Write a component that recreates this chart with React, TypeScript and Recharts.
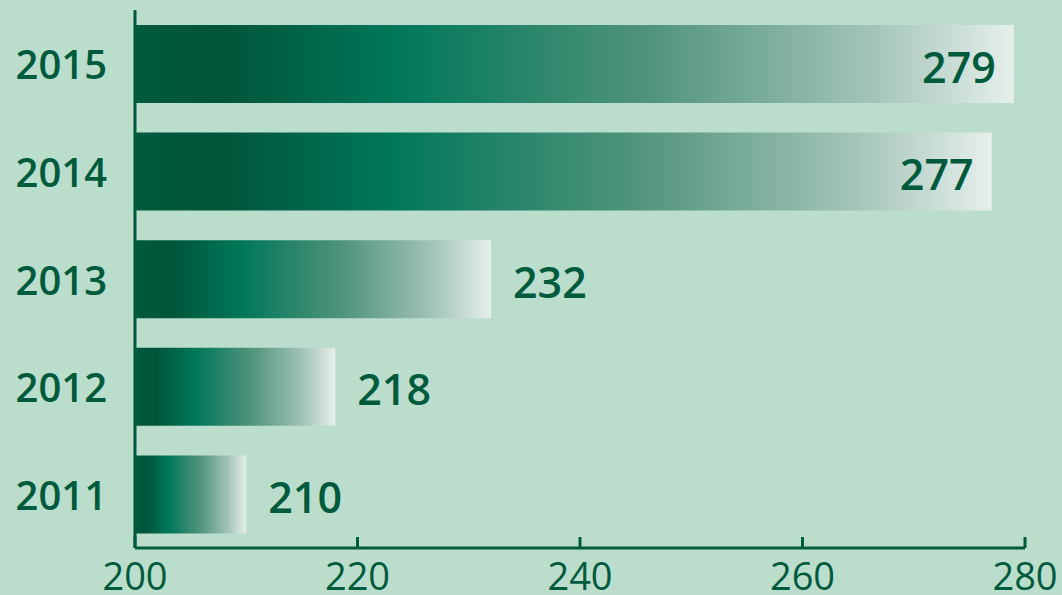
import { BarChart, Bar, XAxis, YAxis, LabelList } from 'recharts'

const years = ['2015', '2014', '2013', '2012', '2011']
const values = [279, 277, 232, 218, 210]
const xTicks = [200, 220, 240, 260, 280]

const data = years.map((year, i) => ({ year, value: values[i] }))

const GREEN = '#005a3c'
const BG = '#bbdecc'
const FONT = '"Open Sans", "Noto Sans", sans-serif'

function XTick({ x, y, payload }: any) {
  return (
    <g>
      <line x1={x} y1={y} x2={x} y2={y - 11} stroke={GREEN} strokeWidth={3} />
      <text
        x={x}
        y={y + 42}
        textAnchor='middle'
        fill={GREEN}
        fontSize={38}
        fontFamily={FONT}
      >
        {payload.value}
      </text>
    </g>
  )
}

function YTick({ x, y, payload }: any) {
  return (
    <text
      x={x}
      y={y}
      textAnchor='end'
      dominantBaseline='central'
      fill={GREEN}
      fontSize={40}
      fontWeight={600}
      fontFamily={FONT}
    >
      {payload.value}
    </text>
  )
}

function ValueLabel({ x, y, width, height, value }: any) {
  const inside = value > 250
  return (
    <text
      x={inside ? x + width - 18 : x + width + 22}
      y={y + height / 2 + 2}
      textAnchor={inside ? 'end' : 'start'}
      dominantBaseline='central'
      fill={GREEN}
      fontSize={43}
      fontWeight={600}
      fontFamily={FONT}
    >
      {value}
    </text>
  )
}

export default function App() {
  return (
    <div style={{ position: 'absolute', left: 0, top: 0, width: 1062, height: 595, background: BG }}>
      <BarChart
        width={1062}
        height={595}
        data={data}
        layout='vertical'
        margin={{ top: 10, right: 37, bottom: 0, left: 0 }}
        barSize={78}
      >
        <defs>
          <linearGradient id='barFade' x1='0' y1='0' x2='1' y2='0'>
            <stop offset='0%' stopColor='#005a3d' />
            <stop offset='10%' stopColor='#00553a' />
            <stop offset='30%' stopColor='#007759' />
            <stop offset='58%' stopColor='#4f937b' />
            <stop offset='84%' stopColor='#a3c4b9' />
            <stop offset='100%' stopColor='#e6efeb' />
          </linearGradient>
        </defs>
        <XAxis
          type='number'
          domain={[200, 280]}
          ticks={xTicks}
          allowDataOverflow
          height={47}
          axisLine={{ stroke: GREEN, strokeWidth: 3 }}
          tickLine={false}
          tickSize={0}
          tickMargin={0}
          tick={<XTick />}
        />
        <YAxis
          type='category'
          dataKey='year'
          width={135}
          axisLine={{ stroke: GREEN, strokeWidth: 3 }}
          tickLine={false}
          tickSize={0}
          tickMargin={28}
          tick={<YTick />}
        />
        <Bar dataKey='value' fill='url(#barFade)' isAnimationActive={false}>
          <LabelList dataKey='value' content={<ValueLabel />} />
        </Bar>
      </BarChart>
    </div>
  )
}
